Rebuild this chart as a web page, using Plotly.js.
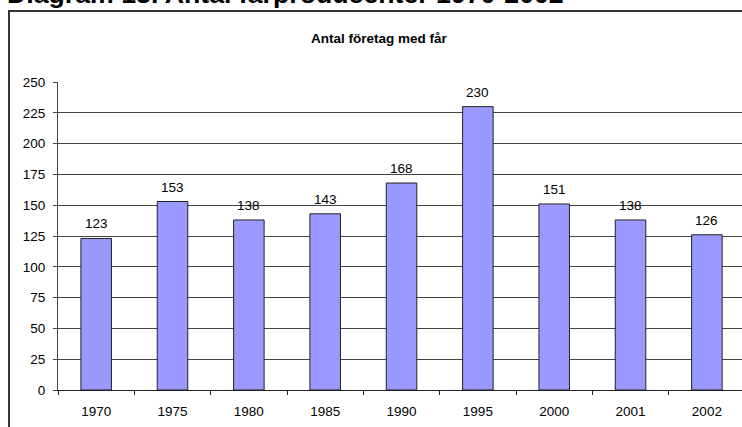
<!DOCTYPE html>
<html>
<head>
<meta charset="utf-8">
<script src="https://cdn.plot.ly/plotly-3.0.1.min.js"></script>
<style>
  html, body { margin: 0; padding: 0; background: #fff; overflow: hidden; }
</style>
</head>
<body>
<div id="chart" style="width:742px;height:427px;"></div>
<script>
let years = ["1970", "1975", "1980", "1985", "1990", "1995", "2000", "2001", "2002"];
let antal = [123, 153, 138, 143, 168, 230, 151, 138, 126];
let yTicks = [0, 25, 50, 75, 100, 125, 150, 175, 200, 225, 250];

let fontFam = "Liberation Sans, Arial, sans-serif";

let trace = {
  x: years,
  y: antal,
  type: "bar",
  width: 0.4,
  marker: { color: "#9999FF", line: { color: "#222", width: 1 } },
  hoverinfo: "none",
};

// value labels above each bar (x given as category index)
let labels = years.map(function (yr, i) {
  return {
    x: i,
    y: antal[i],
    xref: "x",
    yref: "y",
    text: String(antal[i]),
    showarrow: false,
    yanchor: "bottom",
    yshift: 5,
    font: { family: fontFam, size: 13.5, color: "#000" },
  };
});

// inner chart title
labels.push({
  text: "<b>Antal företag med får</b>",
  xref: "paper",
  yref: "paper",
  x: 0.47,
  y: 1.14,
  xanchor: "center",
  yanchor: "middle",
  showarrow: false,
  font: { family: fontFam, size: 13.5, color: "#000" },
});

// heading of the page, cut off at the top
labels.push({
  text: "<b>Diagram 13. Antal fårproducenter 1970-2002</b>",
  xref: "paper",
  yref: "paper",
  x: -0.0775,
  y: 1.285,
  xanchor: "left",
  yanchor: "middle",
  showarrow: false,
  font: { family: fontFam, size: 26.7, color: "#000" },
});

let layout = {
  width: 742,
  height: 427,
  margin: { l: 58, r: 0, t: 82, b: 37, pad: 0 },
  paper_bgcolor: "#fff",
  plot_bgcolor: "#fff",
  showlegend: false,
  font: { family: fontFam, size: 13.5, color: "#000" },
  xaxis: {
    type: "category",
    range: [-0.5, 8.46],
    showgrid: false,
    showline: true,
    linecolor: "#222",
    linewidth: 1,
    ticks: "outside",
    tickson: "boundaries",
    ticklen: 4,
    tickcolor: "#222",
    ticklabelstandoff: 9,
    tickfont: { family: fontFam, size: 13.5, color: "#000" },
    fixedrange: true,
  },
  yaxis: {
    range: [0, 250],
    tickvals: yTicks,
    showgrid: true,
    gridcolor: "#444",
    gridwidth: 1,
    zeroline: false,
    showline: true,
    linecolor: "#444",
    linewidth: 1,
    ticks: "outside",
    ticklen: 4,
    tickcolor: "#444",
    ticklabelstandoff: 5,
    tickfont: { family: fontFam, size: 13.5, color: "#000" },
    fixedrange: true,
  },
  annotations: labels,
  shapes: [
    {
      type: "rect",
      xref: "paper",
      yref: "paper",
      x0: -0.0716,
      x1: 1.2,
      y0: -0.3,
      y1: 1.2305,
      line: { color: "#333", width: 2 },
      fillcolor: "rgba(0,0,0,0)",
    },
  ],
};

Plotly.newPlot("chart", [trace], layout, { displayModeBar: false, staticPlot: true });
</script>
</body>
</html>
